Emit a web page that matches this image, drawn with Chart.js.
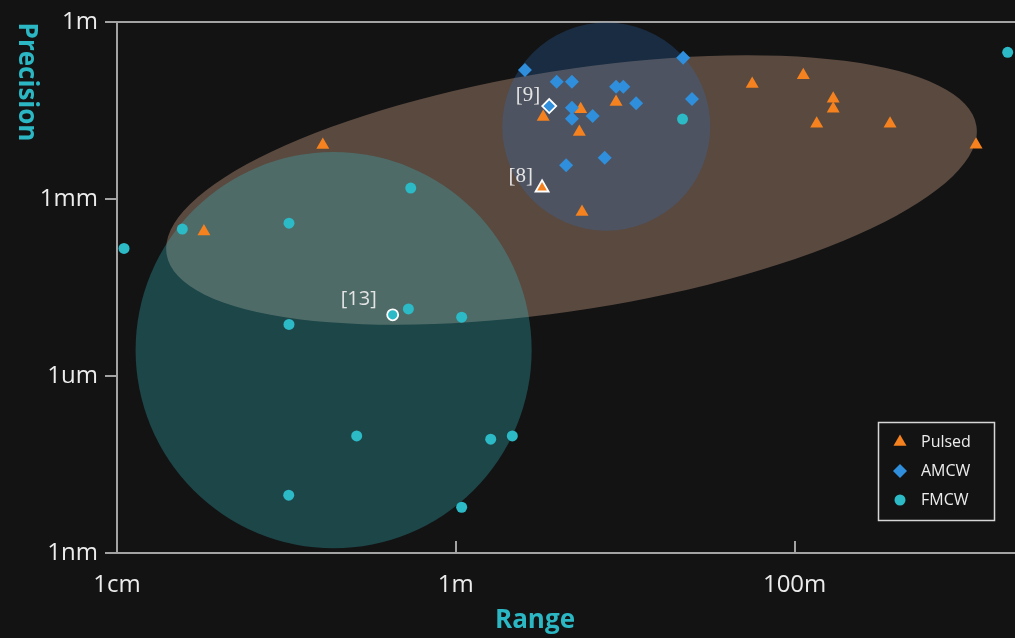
<!DOCTYPE html>
<html>
<head>
<meta charset="utf-8">
<script src="https://cdn.jsdelivr.net/npm/chart.js@4.4.0/dist/chart.umd.min.js"></script>
<style>
  html, body { margin: 0; padding: 0; background: #131313; }
  canvas { display: block; }
</style>
</head>
<body>
<canvas id="chart" width="1015" height="638"></canvas>
<script>
// Axis ticks (values in metres)
const xTickValues = [0.01, 1, 100];
const xTickLabels = ['1cm', '1m', '100m'];
const yTickValues = [1e-9, 1e-6, 1e-3, 1];
const yTickLabels = ['1nm', '1um', '1mm', '1m'];

// Pulsed time-of-flight systems: range (m) and precision (m)
const pulsedRange = [0.0326, 0.164, 3.28, 5.46, 5.36, 8.83, 3.23, 5.56, 56.2, 112.5, 169, 169, 135, 366, 1178];
const pulsedPrecision = [2.82e-4, 8.2e-3, 0.0245, 0.0331, 0.01364, 0.044, 1.55e-3, 6.0e-4, 0.0889, 0.1248, 0.05, 0.0339, 0.0189, 0.0189, 8.3e-3];

// Amplitude-modulated continuous wave systems
const amcwRange = [2.56, 3.94, 4.85, 8.83, 9.75, 22.0, 24.8, 11.6, 3.56, 4.85, 4.85, 6.43, 7.57, 4.48];
const amcwPrecision = [0.1535, 0.0972, 0.0972, 0.0799, 0.0799, 0.248, 0.0495, 0.0418, 0.0376, 0.0352, 0.0229, 0.0255, 5.0e-3, 3.72e-3];

// Frequency-modulated continuous wave systems
const fmcwRange = [0.011, 0.0243, 0.1036, 0.542, 0.424, 0.525, 1.083, 0.1036, 0.26, 1.607, 2.156, 0.1032, 1.083, 21.8, 1811];
const fmcwPrecision = [1.45e-4, 3.09e-4, 3.9e-4, 1.53e-3, 1.09e-5, 1.37e-5, 9.94e-6, 7.48e-6, 9.66e-8, 8.49e-8, 9.66e-8, 9.53e-9, 5.96e-9, 0.0226, 0.306];

// Cited works tagged on the plot (point index -> tag)
const pulsedRefs = { 6: '[8]' };
const amcwRefs = { 8: '[9]' };
const fmcwRefs = { 4: '[13]' };

// Operating envelope of each technique (Pulsed, FMCW, AMCW):
// centre range / precision and half-extent in decades of range / precision
const envelopeRange = [4.82, 0.19, 7.73];
const envelopePrecision = [1.42e-3, 2.74e-6, 0.0169];
const envelopeRangeDecades = [2.42, 1.169, 0.614];
const envelopePrecisionDecades = [2.035, 3.358, 1.764];
const envelopeTiltDeg = [-9, 0, 0];

const axisColor = '#a3a3a3';
const textColor = '#ececec';
const titleColor = '#2bb7c3';
const envelopeFills = ['rgba(255,200,165,0.30)', 'rgba(53,188,198,0.30)', 'rgba(48,112,187,0.28)'];

const toPoints = (xs, ys) => xs.map((x, i) => ({ x: x, y: ys[i] }));

function markerPath(ctx, style, x, y, r) {
  ctx.beginPath();
  if (style === 'triangle') {
    for (let k = 0; k < 3; k++) {
      const a = k * 2 * Math.PI / 3;
      const px = x + Math.sin(a) * r, py = y - Math.cos(a) * r;
      if (k === 0) ctx.moveTo(px, py); else ctx.lineTo(px, py);
    }
    ctx.closePath();
  } else if (style === 'rectRot') {
    ctx.moveTo(x - r, y); ctx.lineTo(x, y - r); ctx.lineTo(x + r, y); ctx.lineTo(x, y + r);
    ctx.closePath();
  } else {
    ctx.arc(x, y, r, 0, Math.PI * 2);
  }
}

const envelopePlugin = {
  id: 'envelopes',
  beforeDatasetsDraw(chart) {
    const { ctx, chartArea: a, scales: { x, y } } = chart;
    ctx.save();
    ctx.beginPath();
    ctx.rect(a.left, a.top, a.right - a.left, a.bottom - a.top);
    ctx.clip();
    envelopeRange.forEach((cr, i) => {
      const cp = envelopePrecision[i];
      const cx = x.getPixelForValue(cr);
      const cy = y.getPixelForValue(cp);
      const rx = x.getPixelForValue(cr * Math.pow(10, envelopeRangeDecades[i])) - cx;
      const ry = cy - y.getPixelForValue(cp * Math.pow(10, envelopePrecisionDecades[i]));
      ctx.beginPath();
      ctx.ellipse(cx, cy, rx, ry, envelopeTiltDeg[i] * Math.PI / 180, 0, Math.PI * 2);
      ctx.fillStyle = envelopeFills[i];
      ctx.fill();
    });
    ctx.restore();
  }
};

const decorPlugin = {
  id: 'decor',
  afterDraw(chart) {
    const { ctx, chartArea: a, scales: { x } } = chart;
    ctx.save();
    // inward tick marks on the range axis
    ctx.strokeStyle = axisColor;
    ctx.lineWidth = 2;
    xTickValues.forEach(v => {
      const px = Math.round(x.getPixelForValue(v));
      ctx.beginPath();
      ctx.moveTo(px, a.bottom);
      ctx.lineTo(px, a.bottom - 12);
      ctx.stroke();
    });

    // reference tags next to the highlighted points
    chart.data.datasets.forEach((ds, di) => {
      const meta = chart.getDatasetMeta(di);
      Object.keys(ds.refs || {}).forEach(k => {
        const el = meta.data[+k];
        if (!el) return;
        const tag = ds.refs[k];
        const serif = tag.length <= 3;
        ctx.font = serif ? '21px "Liberation Serif"' : '20px "Open Sans"';
        ctx.fillStyle = '#e4e4e4';
        ctx.textAlign = 'right';
        ctx.textBaseline = 'middle';
        ctx.fillText(tag, el.x - (serif ? 9 : 16), el.y - (serif ? 11 : 15));
      });
    });

    // axis titles
    ctx.fillStyle = titleColor;
    ctx.font = 'bold 26px "Open Sans"';
    ctx.textAlign = 'center';
    ctx.textBaseline = 'middle';
    ctx.fillText('Range', 535, 621);
    ctx.save();
    ctx.translate(26, 82);
    ctx.rotate(Math.PI / 2);
    ctx.fillText('Precision', 0, 0);
    ctx.restore();

    // legend box
    const lx = 878.5, ly = 422.5, lw = 116, lh = 98;
    ctx.strokeStyle = '#d6d6d6';
    ctx.lineWidth = 1.5;
    ctx.strokeRect(lx, ly, lw, lh);
    const sizes = { triangle: 7.5, rectRot: 7, circle: 5.5 };
    chart.data.datasets.forEach((ds, i) => {
      const cy = 442 + i * 29;
      markerPath(ctx, ds.pointStyle, 900, cy, sizes[ds.pointStyle]);
      ctx.fillStyle = ds.backgroundColor;
      ctx.fill();
      ctx.fillStyle = textColor;
      ctx.font = '16px "Open Sans"';
      ctx.textAlign = 'left';
      ctx.textBaseline = 'middle';
      ctx.fillText(ds.label, 921, cy);
    });
    ctx.restore();
  }
};

function seriesDataset(label, xs, ys, refs, style, color, radius, order) {
  return {
    label: label,
    data: toPoints(xs, ys),
    refs: refs,
    pointStyle: style,
    backgroundColor: color,
    borderColor: color,
    pointRadius: radius,
    pointHoverRadius: radius,
    pointBorderColor: '#ffffff',
    pointBorderWidth: c => (refs[c.dataIndex] ? 1.8 : 0),
    order: order
  };
}

new Chart(document.getElementById('chart'), {
  type: 'scatter',
  data: {
    datasets: [
      seriesDataset('Pulsed', pulsedRange, pulsedPrecision, pulsedRefs, 'triangle', '#f5821f', 7.5, 3),
      seriesDataset('AMCW', amcwRange, amcwPrecision, amcwRefs, 'rectRot', '#2f8fdc', 7, 2),
      seriesDataset('FMCW', fmcwRange, fmcwPrecision, fmcwRefs, 'circle', '#2bbac6', 5.5, 1)
    ]
  },
  plugins: [envelopePlugin, decorPlugin],
  options: {
    responsive: false,
    animation: false,
    events: [],
    layout: { autoPadding: false, padding: { top: 22, right: 0, left: 0, bottom: 0 } },
    plugins: { legend: { display: false }, tooltip: { enabled: false } },
    scales: {
      x: {
        type: 'logarithmic',
        min: 0.01,
        max: 2000,
        afterBuildTicks: s => { s.ticks = xTickValues.map(v => ({ value: v })); },
        afterFit: s => { s.height = 85; s.paddingLeft = 0; s.paddingRight = 0; },
        ticks: {
          callback: (v, i) => xTickLabels[i],
          color: textColor,
          font: { family: 'Open Sans', size: 24 },
          padding: 10,
          maxRotation: 0,
          autoSkip: false
        },
        grid: { display: false },
        border: { color: axisColor, width: 2 }
      },
      y: {
        type: 'logarithmic',
        min: 1e-9,
        max: 1,
        afterBuildTicks: s => { s.ticks = yTickValues.map(v => ({ value: v })); },
        afterFit: s => { s.width = 117; s.paddingTop = 0; s.paddingBottom = 0; },
        ticks: {
          callback: (v, i) => yTickLabels[i],
          color: textColor,
          font: { family: 'Open Sans', size: 24 },
          padding: 7,
          autoSkip: false
        },
        grid: {
          drawOnChartArea: true,
          color: c => (c.tick && c.tick.value === 1 ? axisColor : 'rgba(0,0,0,0)'),
          tickColor: axisColor,
          tickLength: 12,
          lineWidth: 2,
          tickWidth: 2
        },
        border: { color: axisColor, width: 2 }
      }
    }
  }
});
</script>
</body>
</html>
